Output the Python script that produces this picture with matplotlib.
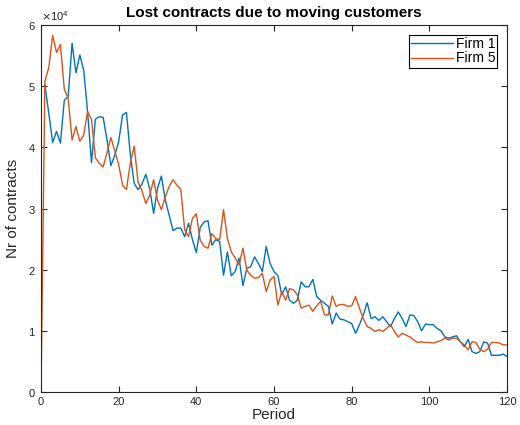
import matplotlib
matplotlib.use("Agg")
import matplotlib.pyplot as plt
import numpy as np
from matplotlib.ticker import ScalarFormatter, MultipleLocator

periods_f1 = list(range(1, 121))
firm1 = [5.02, 4.56, 4.08, 4.26, 4.07, 4.77, 4.83, 5.70, 5.22, 5.51,
         5.26, 4.58, 3.75, 4.46, 4.50, 4.49, 4.12, 3.70, 3.87, 4.09,
         4.53, 4.57, 3.88, 3.41, 3.31, 3.40, 3.56, 3.32, 2.92, 3.33,
         3.53, 3.14, 2.89, 2.64, 2.68, 2.68, 2.54, 2.76, 2.49, 2.28,
         2.69, 2.78, 2.80, 2.40, 2.49, 2.46, 1.91, 2.29, 1.90, 1.97,
         2.19, 1.74, 2.02, 2.05, 2.21, 2.10, 1.97, 2.38, 2.10, 1.97,
         1.90, 1.59, 1.72, 1.50, 1.45, 1.50, 1.80, 1.72, 1.72, 1.84,
         1.56, 1.50, 1.45, 1.40, 1.11, 1.29, 1.19, 1.18, 1.15, 1.12,
         0.96, 1.10, 1.26, 1.46, 1.20, 1.23, 1.17, 1.23, 1.15, 1.07,
         1.20, 1.31, 1.20, 1.07, 1.26, 1.25, 1.15, 1.00, 1.11, 1.10,
         1.10, 1.04, 1.00, 0.90, 0.88, 0.90, 0.92, 0.82, 0.74, 0.86,
         0.66, 0.63, 0.66, 0.82, 0.80, 0.60, 0.60, 0.60, 0.62, 0.58]

periods_f5 = list(range(0, 121))
firm5 = [0.00,
         5.08, 5.30, 5.83, 5.55, 5.68, 4.95, 4.80, 4.12, 4.34, 4.10,
         4.20, 4.58, 4.46, 3.83, 3.74, 3.68, 3.91, 4.16, 3.94, 3.72,
         3.38, 3.31, 3.74, 4.02, 3.43, 3.29, 3.08, 3.22, 3.47, 3.14,
         2.98, 3.19, 3.36, 3.47, 3.38, 3.31, 2.65, 2.54, 2.84, 2.91,
         2.48, 2.38, 2.35, 2.59, 2.51, 2.49, 2.98, 2.51, 2.29, 2.19,
         2.08, 2.35, 1.99, 1.91, 1.86, 1.87, 1.94, 1.64, 1.83, 1.89,
         1.42, 1.64, 1.50, 1.69, 1.67, 1.59, 1.37, 1.40, 1.42, 1.32,
         1.41, 1.48, 1.26, 1.26, 1.57, 1.40, 1.43, 1.43, 1.40, 1.41,
         1.56, 1.37, 1.20, 1.07, 1.04, 0.99, 1.02, 0.99, 1.04, 1.10,
         0.99, 0.90, 0.96, 0.93, 0.90, 0.85, 0.81, 0.82, 0.81, 0.81,
         0.80, 0.82, 0.84, 0.88, 0.85, 0.88, 0.88, 0.82, 0.77, 0.69,
         0.82, 0.81, 0.70, 0.66, 0.70, 0.81, 0.81, 0.80, 0.77, 0.77]

scale = 1e4
firm1_vals = np.array(firm1) * scale
firm5_vals = np.array(firm5) * scale

plt.rcParams['font.family'] = ['Liberation Sans', 'DejaVu Sans']

fig = plt.figure(figsize=(5.2, 4.25), dpi=100)
ax = fig.add_axes([41/520, 33/425, 466/520, 367/425])

blue = (0.0, 0.447, 0.741)
orange = (0.85, 0.325, 0.098)
ax.plot(periods_f1, firm1_vals, color=blue, lw=1.0, label='Firm 1')
ax.plot(periods_f5, firm5_vals, color=orange, lw=1.0, label='Firm 5')

ax.set_xlim(0, 120)
ax.set_ylim(0, 6e4)
ax.xaxis.set_major_locator(MultipleLocator(20))
ax.yaxis.set_major_locator(MultipleLocator(1e4))
fmt = ScalarFormatter(useMathText=True)
fmt.set_powerlimits((0, 0))
ax.yaxis.set_major_formatter(fmt)

gray = (0.15, 0.15, 0.15)
ax.tick_params(direction='in', top=True, right=True, length=4, width=0.8,
               labelsize=8, colors=gray)
ax.yaxis.get_offset_text().set_fontsize(8)
ax.yaxis.get_offset_text().set_color(gray)
for s in ax.spines.values():
    s.set_color(gray)
    s.set_linewidth(0.8)

ax.set_title('Lost contracts due to moving customers', fontsize=11,
             fontweight='bold', pad=6)
ax.set_xlabel('Period', fontsize=11, color=gray, labelpad=1)
ax.set_ylabel('Nr of contracts', fontsize=11, color=gray, labelpad=6)

leg = ax.legend(loc='upper right', fontsize=10, frameon=True, fancybox=False,
                edgecolor='black', framealpha=1, borderpad=0.15,
                handlelength=3.0, handletextpad=0.2, labelspacing=0.05,
                borderaxespad=0.7)
leg.get_frame().set_linewidth(0.8)

fig.savefig('out.png', dpi=100)
